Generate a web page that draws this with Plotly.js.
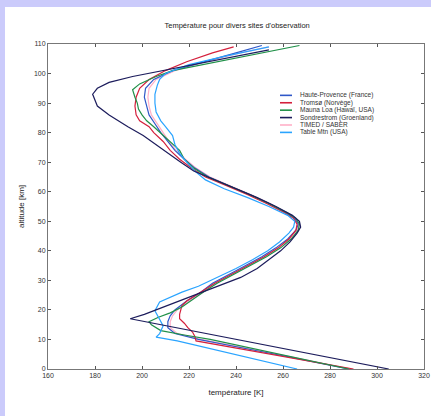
<!DOCTYPE html>
<html>
<head>
<meta charset="utf-8">
<script src="https://cdn.plot.ly/plotly-3.0.1.min.js"></script>
<style>
  html, body { margin: 0; padding: 0; width: 431px; height: 416px; background: #cbcbfb; overflow: hidden; }
  #chart { position: absolute; left: 5px; top: 7px; width: 426px; height: 409px; background: #fff; }
</style>
</head>
<body>
<div id="chart"></div>
<script>
// ---- data ----
const seriesNames = [
  "Haute-Provence (France)",
  "Tromsø (Norvège)",
  "Mauna Loa (Hawaï, USA)",
  "Sondrestrom (Groenland)",
  "TIMED / SABER",
  "Table Mtn (USA)"
];

const altBlue = [0, 2, 4, 6, 8, 10, 12, 14, 16, 18, 20, 23, 26, 29, 32, 35, 38, 41, 44, 47, 49, 51, 53, 56, 59, 62, 65, 68, 71, 74, 77, 80, 83, 86, 89, 92, 95, 98, 101, 104, 107, 109.5];
const tBlue   = [288, 276, 263, 250, 237, 224, 214, 211, 211, 212, 214, 219, 225, 230, 237, 244, 251, 257, 262, 265.5, 266.5, 265, 261, 254, 246, 237, 228.5, 222.5, 218, 214, 211, 208, 205.5, 203, 202, 201, 201.5, 205, 213, 226, 240, 251];

const altRed = [0, 2, 4, 6, 8, 9.5, 11, 12.5, 14, 15.5, 17, 18.5, 20, 21.5, 23, 26, 29, 32, 35, 38, 41, 44, 47, 49, 51, 53, 56, 59, 62, 65, 68, 71, 74, 77, 80, 82, 84, 86, 89, 92, 95, 98, 101, 104, 107, 109];
const tRed   = [290, 276, 262, 248, 234, 223, 222.5, 221.5, 219.5, 218, 216, 216, 216.5, 217, 219, 225, 231, 238, 245, 252, 258, 262.5, 265.5, 266, 264.5, 260.5, 253, 245, 236, 227, 221, 216, 212, 209, 205, 203, 199, 197.5, 197, 197.5, 199, 203, 210, 219, 230, 239];

const altGreen = [0, 2, 4, 6, 8, 10, 11.5, 13, 15, 16, 17.5, 19, 21, 23.5, 26, 29, 32, 35, 38, 41, 44, 47, 49, 51, 53, 56, 59, 62, 65, 68, 71, 74, 77, 80, 82, 84, 86, 88, 90, 92, 94.5, 96.5, 99, 101, 103, 106, 109.5];
const tGreen   = [288, 276, 264, 252, 240, 229, 218, 208, 204, 203, 207, 212, 217, 221.5, 226, 232, 239, 246, 253, 259, 263.5, 266.5, 267, 265.5, 261.5, 254, 246, 237, 228, 222, 218, 216, 212, 208, 205, 202, 200, 198.5, 198, 197, 196, 199, 206, 213, 226, 245, 267];

const altNavy = [0, 2, 4, 6, 8, 10, 12, 14, 16, 17, 18.5, 20, 22, 25, 28, 31, 34, 37, 40, 43, 46, 48, 50, 52, 55, 58, 61, 64, 67, 70, 73, 76, 79, 82, 84, 86, 89, 91, 93, 95, 97, 99, 101, 103, 105, 108];
const tNavy   = [305, 292, 279, 266, 253, 240, 227, 214, 201.5, 195, 201, 206, 212, 222, 232, 242, 249, 254, 259, 263, 266, 267.5, 267, 264, 257, 249, 240, 231, 222, 216.5, 211, 206, 200.5, 194, 190, 186, 181, 180, 179, 181, 186, 196, 209, 222, 234, 254];

const altPink = [0, 2, 4, 6, 8, 10, 12, 14, 16, 18, 20, 23, 26, 29, 32, 35, 38, 41, 44, 47, 49, 51, 53, 56, 59, 62, 65, 68, 71, 74, 77, 80, 83, 86, 89, 92, 95, 98, 101, 104, 107, 109];
const tPink   = [289, 277, 264, 251, 238, 225, 215, 212, 212, 213, 215, 220, 226, 231, 238, 245, 252, 258, 263, 266, 267, 265.5, 261.5, 254.5, 246.5, 237.5, 229, 223, 218.5, 214.5, 211.5, 209, 206.5, 204, 203, 202.5, 203, 206, 214, 227, 242, 254];

const altLight = [0, 2, 4, 6, 8, 9.5, 10.8, 12, 14.6, 17, 19.7, 22.7, 26, 28, 31, 34, 37, 40, 43, 46, 48, 50, 52, 55, 58, 61, 64, 67, 70, 73, 76, 79, 82, 84, 87, 90, 93, 96, 98, 100, 103, 106, 109];
const tLight   = [266, 255.5, 244.5, 234, 223, 215, 206, 207.5, 209, 207.5, 205.5, 207.5, 217, 224, 232, 240, 247, 253.5, 258.5, 262.5, 264.5, 265, 262, 254, 245, 235, 227, 222.5, 219, 216, 214, 213, 210, 208, 206, 205.5, 205.5, 206.5, 207.5, 210, 220, 236, 254];

const xTicks = [160, 180, 200, 220, 240, 260, 280, 300, 320];
const yTicks = [0, 10, 20, 30, 40, 50, 60, 70, 80, 90, 100, 110];

// ---- styles ----
const seriesColors = ["#2f58c8", "#d4203c", "#1f9048", "#1c1c5c", "#ffb0c8", "#2aa4ff"];
const seriesX = [tBlue, tRed, tGreen, tNavy, tPink, tLight];
const seriesY = [altBlue, altRed, altGreen, altNavy, altPink, altLight];
const drawOrder = [4, 0, 1, 2, 5, 3];

const traces = drawOrder.map(i => ({
  type: "scatter",
  mode: "lines",
  x: seriesX[i],
  y: seriesY[i],
  name: seriesNames[i],
  line: { color: seriesColors[i], width: 1.2 },
  showlegend: false,
  hoverinfo: "skip"
}));

// manual compact legend (paper coordinates)
const shapes = [];
const annotations = [];
const legX0 = 0.617, legX1 = 0.649, legTX = 0.664, legY0 = 0.842, legDY = 0.0228;
seriesNames.forEach((n, i) => {
  const yy = legY0 - i * legDY;
  shapes.push({ type: "line", xref: "paper", yref: "paper", x0: legX0, x1: legX1, y0: yy, y1: yy,
                line: { color: seriesColors[i], width: 1.6 } });
  annotations.push({ xref: "paper", yref: "paper", x: legTX, y: yy, text: n, showarrow: false,
                     xanchor: "left", yanchor: "middle", font: { size: 6.5, color: "#333" } });
});

const axisCommon = {
  showline: true, linecolor: "#777", linewidth: 1, mirror: "ticks",
  ticks: "inside", ticklen: 3, tickcolor: "#555", showgrid: false, zeroline: false,
  tickfont: { size: 7, color: "#333" }
};

const layout = {
  width: 426, height: 409,
  margin: { l: 43, r: 7, t: 37, b: 47 },
  paper_bgcolor: "#ffffff",
  plot_bgcolor: "#ffffff",
  font: { family: "Liberation Sans, Arial, sans-serif", color: "#333" },
  title: { text: "Température pour divers sites d'observation", font: { size: 7.5, color: "#222" },
           x: 0.545, xanchor: "center", y: 0.956, yanchor: "middle" },
  xaxis: Object.assign({}, axisCommon, {
    range: [160, 320], tickvals: xTicks, ticktext: xTicks.map(String),
    title: { text: "température [K]", font: { size: 8, color: "#222" }, standoff: 10 }
  }),
  yaxis: Object.assign({}, axisCommon, {
    range: [0, 110], tickvals: yTicks, ticktext: yTicks.map(String),
    title: { text: "altitude [km]", font: { size: 8, color: "#222" }, standoff: 8 }
  }),
  shapes: shapes,
  annotations: annotations,
  showlegend: false
};

Plotly.newPlot("chart", traces, layout, { displayModeBar: false, staticPlot: true });
</script>
</body>
</html>
